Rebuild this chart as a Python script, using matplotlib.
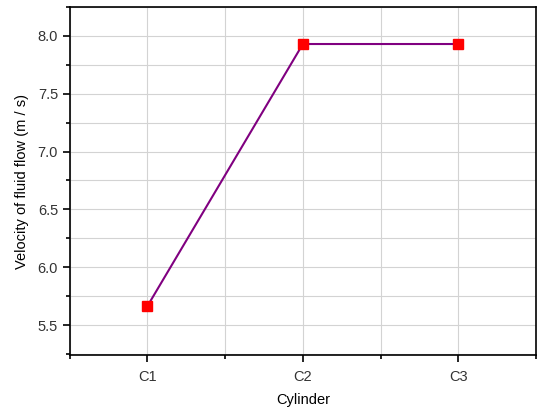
import matplotlib
matplotlib.use("Agg")
import matplotlib.pyplot as plt
from matplotlib.ticker import MultipleLocator

plt.rcParams['font.family'] = ['Liberation Sans', 'DejaVu Sans']

cylinders = ["C1", "C2", "C3"]
velocity = [5.665, 7.93, 7.93]

fig = plt.figure(figsize=(5.37, 4.12), dpi=100)
ax = fig.add_axes([0.130, 0.138, 0.868, 0.845])

xs = list(range(1, len(cylinders) + 1))
ax.plot(xs, velocity, color='#800080', lw=1.5, marker='s', ms=6.5,
        mfc='red', mec='red', zorder=3)

ax.set_xlim(0.5, 3.5)
ax.set_ylim(5.24, 8.25)
ax.set_xticks(xs)
ax.set_xticklabels(cylinders)
ax.xaxis.set_minor_locator(MultipleLocator(0.5))
ax.yaxis.set_major_locator(MultipleLocator(0.5))
ax.yaxis.set_minor_locator(MultipleLocator(0.25))

ax.grid(True, which='both', color='#d3d3d3', lw=0.8)
ax.set_axisbelow(True)

for s in ax.spines.values():
    s.set_linewidth(1.2)
    s.set_color('black')

ax.tick_params(which='major', direction='out', length=5, width=1.2,
               labelsize=10.5, labelcolor='#333333')
ax.tick_params(axis='x', which='major', pad=6)
ax.tick_params(which='minor', direction='out', length=3, width=1.2)

ax.set_xlabel("Cylinder", fontsize=10.5, labelpad=6)
ax.set_ylabel("Velocity of fluid flow (m / s)", fontsize=10.5, labelpad=6)

fig.savefig("out.png", dpi=100)
